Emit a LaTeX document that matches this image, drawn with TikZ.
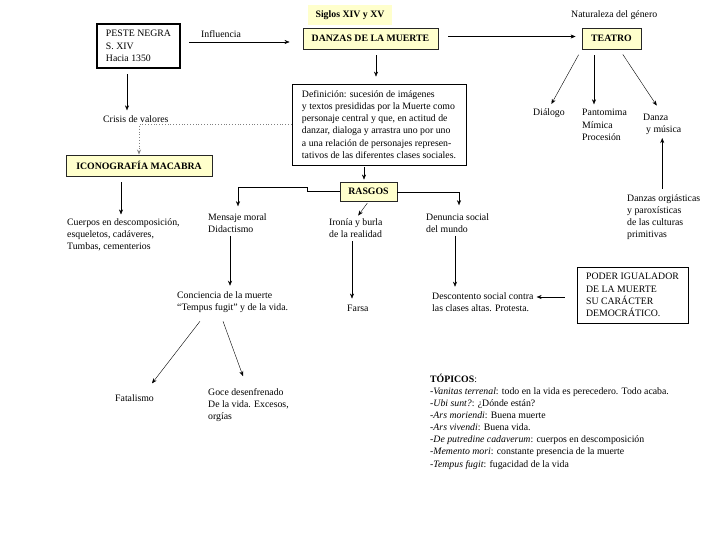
\documentclass[tikz,border=0pt]{standalone}
\usepackage{fontspec}
\setmainfont{Liberation Serif}
\usetikzlibrary{arrows.meta,positioning}
\definecolor{boxyellow}{HTML}{FFFFCC}

\begin{document}
\begin{tikzpicture}[
  x=1pt, y=-1pt,
  >={Stealth[length=5pt,width=4pt]},
  every node/.style={font=\fontsize{9.8}{12.2}\selectfont},
  title/.style={
    rectangle,
    draw=black!85,
    line width=0.9pt,
    fill=boxyellow,
    inner sep=0pt,
    minimum height=21pt,
    font=\fontsize{9.8}{12.2}\selectfont\bfseries
  },
  framed/.style={
    rectangle,
    draw,
    line width=0.8pt,
    align=left,
    inner sep=0pt
  },
  txt/.style={align=left, inner sep=0pt, anchor=west}
]
\useasboundingbox (0,0) rectangle (728,546);

\node[fill=boxyellow, minimum width=84pt, minimum height=20pt, inner sep=0pt,
  font=\fontsize{9.8}{12.2}\selectfont\bfseries] (siglos) at (350,15) {Siglos XIV y XV};

\node[framed, line width=2pt, minimum width=83pt, minimum height=44pt]
  (peste) at (138.5,46) {PESTE NEGRA\\S. XIV\\Hacia 1350};

\node[txt] (influencia) at (201,34) {Influencia};

\node[title, minimum width=135pt] (danzas) at (370.5,38.5) {DANZAS DE LA MUERTE};

\node[txt] (naturaleza) at (571,15) {Naturaleza del género};

\node[title, minimum width=59pt] (teatro) at (611.5,38.5) {TEATRO};

\node[framed, minimum width=174pt, minimum height=81pt] (def) at (379,124.5)
  {Definición: sucesión de imágenes\\
   y textos presididas por la Muerte como\\
   personaje central y que, en actitud de\\
   danzar, dialoga y arrastra uno por uno\\
   a una relación de personajes represen-\\
   tativos de las diferentes clases sociales.};

\node[title, minimum width=57pt, minimum height=19pt] (rasgos) at (368.5,191.5) {RASGOS};

\node[title, minimum width=146pt] (icono) at (139,165.5) {ICONOGRAFÍA MACABRA};

\node[txt] (crisis) at (103,119) {Crisis de valores};

\node[txt] (cuerpos) at (67,235) {Cuerpos en descomposición,\\esqueletos, cadáveres,\\Tumbas, cementerios};

\node[txt] (mensaje) at (208,223) {Mensaje moral\\Didactismo};

\node[txt] (ironia) at (329,228.5) {Ironía y burla\\de la realidad};

\node[txt] (denuncia) at (426,223) {Denuncia social\\del mundo};

\node[txt] (conciencia) at (177,302.5) {Conciencia de la muerte\\“Tempus fugit” y de la vida.};

\node[txt] (farsa) at (347,308) {Farsa};

\node[txt] (descontento) at (432,302.5) {Descontento social contra\\las clases altas. Protesta.};

\node[framed, minimum width=111pt, minimum height=56pt] (poder) at (632.5,295)
  {PODER IGUALADOR\\DE LA MUERTE\\SU CARÁCTER\\DEMOCRÁTICO.};

\node[txt] (fatalismo) at (115,398) {Fatalismo};

\node[txt] (goce) at (208,405) {Goce desenfrenado\\De la vida. Excesos,\\orgías};

\node[txt] (dialogo) at (533,113) {Diálogo};

\node[txt] (pantomima) at (582,125) {Pantomima\\Mímica\\Procesión};

\node[txt] (danza) at (643,124.5) {Danza\\\hspace{3pt}y música};

\node[txt] (orgiasticas) at (627,217) {Danzas orgiásticas\\y paroxísticas\\de las culturas\\primitivas};

\node[txt, font=\fontsize{9.8}{12.1}\selectfont] (topicos) at (430,421.5)
  {\textbf{TÓPICOS}:\\
   -\textit{Vanitas terrenal}: todo en la vida es perecedero. Todo acaba.\\
   -\textit{Ubi sunt?}: ¿Dónde están?\\
   -\textit{Ars moriendi}: Buena muerte\\
   -\textit{Ars vivendi}: Buena vida.\\
   -\textit{De putredine cadaverum}: cuerpos en descomposición\\
   -\textit{Memento mori}: constante presencia de la muerte\\
   -\textit{Tempus fugit}: fugacidad de la vida};

% Arrows
\draw[->, shorten <=8pt, shorten >=13pt] ([yshift=4pt]peste.east) -- ([yshift=4pt]peste.east -| danzas.west);
\draw[->, shorten <=10pt, shorten >=6pt] ([yshift=2pt]danzas.east) -- ([yshift=2pt]teatro.west);
\draw[->, shorten <=6pt, shorten >=7pt] ([xshift=5.5pt]danzas.south) -- ([xshift=5.5pt]danzas.south |- def.north);
\draw[->, shorten <=2pt, shorten >=2pt] ([xshift=-4.5pt]rasgos.north |- def.south) -- ([xshift=-4.5pt]rasgos.north);
\draw[->] (rasgos.west) -- ++(-32,0) -- ++(0,-4) -| ([yshift=7pt]mensaje.north -| 238,0);
\draw[->] ([yshift=-1pt]rasgos.east) -| ([yshift=8pt]denuncia.north -| 459,0);
\draw[->, shorten <=2pt, shorten >=4pt] (rasgos.south) -- (ironia.north);
\draw[->, shorten <=6pt, shorten >=4pt] ([xshift=-18pt]icono.south) -- ([xshift=-18pt]icono.south |- cuerpos.north);
\draw[->, shorten <=5pt, shorten >=5pt] (peste.south -| 127,0) -- (crisis.north -| 127,0);
\draw[dotted, gray, thick, ->] (def.west) -| (icono.north);
\draw[->, shorten <=3pt, shorten >=6pt] (mensaje.south -| 230,0) -- (conciencia.north -| 230,0);
\draw[->, shorten <=3pt, shorten >=6pt] (ironia.south -| 352,0) -- (farsa.north -| 352,0);
\draw[->, shorten <=3pt, shorten >=6pt] (denuncia.south -| 455,0) -- (descontento.north -| 455,0);
\draw[->, shorten <=12pt, shorten >=3pt] ([yshift=-2pt]poder.west) -- ([yshift=-2pt]poder.west -| descontento.east);
\draw[->] ([xshift=23pt, yshift=-8pt]conciencia.south west) -- ([xshift=37pt, yshift=11pt]fatalismo.north west);
\draw[->] ([xshift=46pt, yshift=-8pt]conciencia.south west) -- ([xshift=35pt, yshift=12pt]goce.north west);
\draw[->, shorten <=6pt, shorten >=5pt] (teatro.south west) -- (dialogo.north);
\draw[->, shorten <=6pt, shorten >=5pt] ([xshift=-17.5pt]teatro.south) -- ([xshift=-17.5pt]teatro.south |- pantomima.north);
\draw[->, shorten <=6pt, shorten >=10pt] ([xshift=8pt]teatro.south) -- (danza.north);
\draw[->, shorten <=5pt, shorten >=3pt] (orgiasticas.north -| danza.south) -- (danza.south);

\end{tikzpicture}
\end{document}
